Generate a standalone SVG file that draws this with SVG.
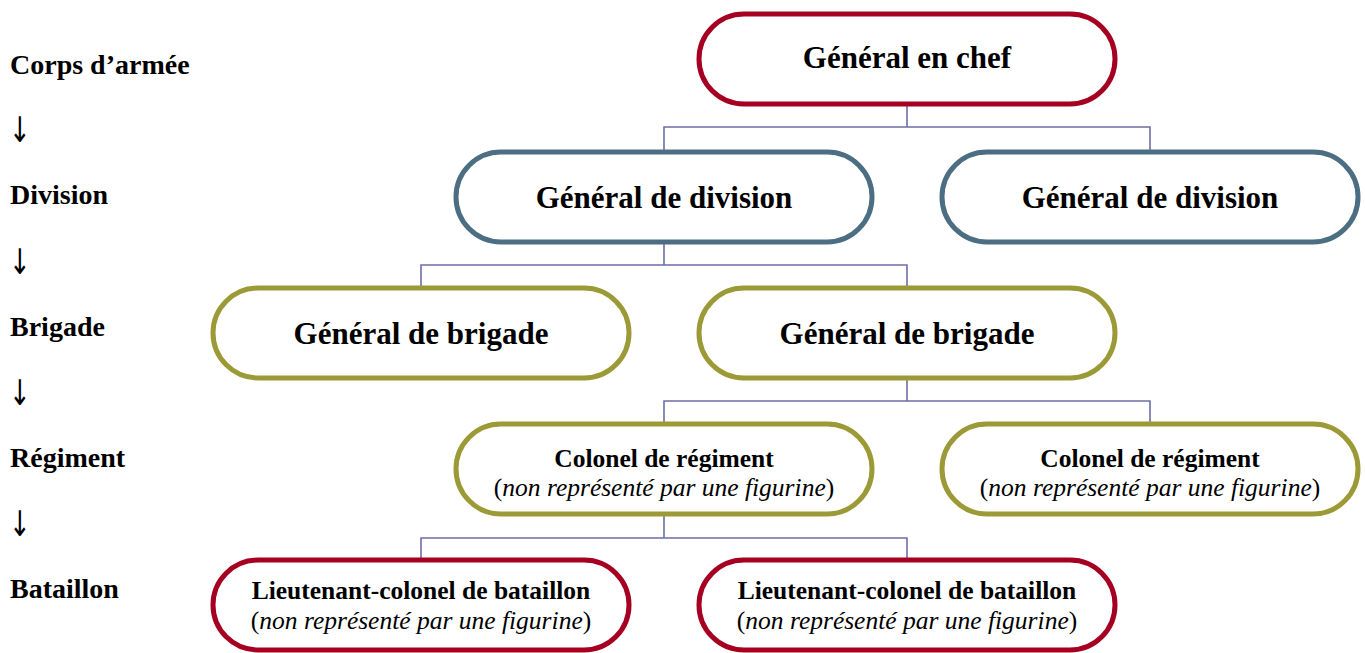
<svg xmlns="http://www.w3.org/2000/svg" width="1365" height="653" viewBox="0 0 1365 653">
<style>
.box{fill:#fff;stroke-width:5}
.red{stroke:#A50021}
.blue{stroke:#4C6E82}
.olive{stroke:#9C9A36}
.t{font-family:"Liberation Serif",serif;font-weight:bold;fill:#000;text-anchor:middle}
.big{font-size:31px}
.mid{font-size:25.5px}
.it{font-family:"Liberation Serif",serif;font-size:25.5px;fill:#000;text-anchor:middle}
.it tspan.i{font-style:italic}
.lab{font-family:"Liberation Serif",serif;font-weight:bold;font-size:28px;fill:#000}
.arr{font-family:"DejaVu Sans",sans-serif;font-size:26px;fill:#000}
.con{fill:none;stroke:#6E6EA6;stroke-width:1.6}
</style>
<rect width="1365" height="653" fill="#fff"/>
<g id="levels">
<text class="lab" x="10" y="74">Corps d’armée</text>
<text class="arr" transform="translate(9,142) scale(1,1.35)">↓</text>
<text class="lab" x="10" y="204">Division</text>
<text class="arr" transform="translate(9,274) scale(1,1.35)">↓</text>
<text class="lab" x="10" y="336">Brigade</text>
<text class="arr" transform="translate(9,405) scale(1,1.35)">↓</text>
<text class="lab" x="10" y="467">Régiment</text>
<text class="arr" transform="translate(9,536) scale(1,1.35)">↓</text>
<text class="lab" x="10" y="598">Bataillon</text>
</g>
<g id="connectors">
<path class="con" d="M907 104V127M664 150V127H1150V150"/>
<path class="con" d="M664 242V265M421 287V265H907V287"/>
<path class="con" d="M907 378V401M664 423V401H1150V423"/>
<path class="con" d="M664 515V538M421 560V538H907V560"/>
</g>
<g id="chef">
<rect class="box red" x="699" y="14" width="416" height="90" rx="45"/>
<text class="t big" x="907" y="68">Général en chef</text>
</g>
<g id="division1">
<rect class="box blue" x="456" y="152" width="416" height="90" rx="45"/>
<text class="t big" x="664" y="208">Général de division</text>
</g>
<g id="division2">
<rect class="box blue" x="942" y="152" width="416" height="90" rx="45"/>
<text class="t big" x="1150" y="208">Général de division</text>
</g>
<g id="brigade1">
<rect class="box olive" x="213" y="288" width="416" height="90" rx="45"/>
<text class="t big" x="421" y="344">Général de brigade</text>
</g>
<g id="brigade2">
<rect class="box olive" x="699" y="288" width="416" height="90" rx="45"/>
<text class="t big" x="907" y="344">Général de brigade</text>
</g>
<g id="regiment1">
<rect class="box olive" x="456" y="424" width="416" height="90" rx="45"/>
<text class="t mid" x="664" y="467">Colonel de régiment</text>
<text class="it" x="664" y="496">(<tspan class="i">non représenté par une figurine</tspan>)</text>
</g>
<g id="regiment2">
<rect class="box olive" x="942" y="424" width="416" height="90" rx="45"/>
<text class="t mid" x="1150" y="467">Colonel de régiment</text>
<text class="it" x="1150" y="496">(<tspan class="i">non représenté par une figurine</tspan>)</text>
</g>
<g id="bataillon1">
<rect class="box red" x="213" y="560" width="416" height="90" rx="45"/>
<text class="t mid" x="421" y="599">Lieutenant-colonel de bataillon</text>
<text class="it" x="421" y="629">(<tspan class="i">non représenté par une figurine</tspan>)</text>
</g>
<g id="bataillon2">
<rect class="box red" x="699" y="560" width="416" height="90" rx="45"/>
<text class="t mid" x="907" y="599">Lieutenant-colonel de bataillon</text>
<text class="it" x="907" y="629">(<tspan class="i">non représenté par une figurine</tspan>)</text>
</g>
</svg>
